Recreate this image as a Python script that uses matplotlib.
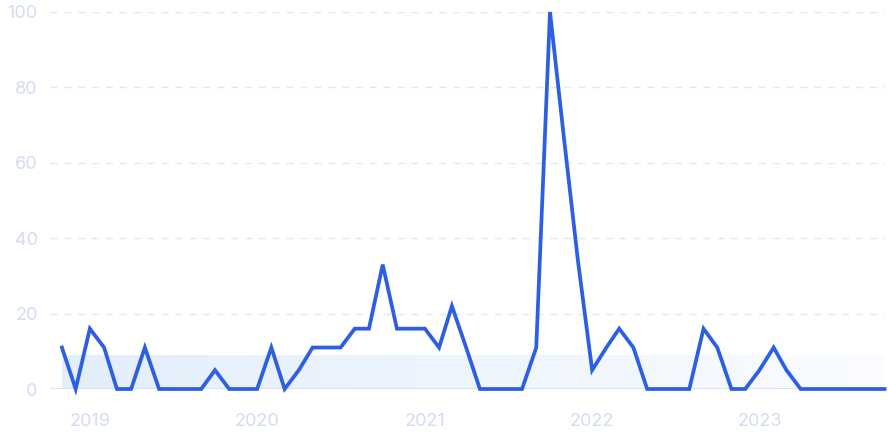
import matplotlib
matplotlib.use("Agg")
import matplotlib.pyplot as plt
import matplotlib.dates as mdates
from matplotlib.colors import LinearSegmentedColormap
import numpy as np
import pandas as pd

# Monthly values, Nov 2018 .. Oct 2023
months = pd.date_range("2018-11-01", periods=60, freq="MS")
values = [
    11, 0, 16, 11, 0, 0, 11, 0, 0, 0, 0, 5,
    0, 0, 0, 11, 0, 5, 11, 11, 11, 16, 16, 33,
    16, 16, 16, 11, 22, 11, 0, 0, 0, 0, 11, 100,
    66, 34, 5, 11, 16, 11, 0, 0, 0, 0, 16, 11,
    0, 0, 5, 11, 5, 0, 0, 0, 0, 0, 0, 0,
]
band_level = 8.8
y_ticks = [0, 20, 40, 60, 80, 100]
year_ticks = pd.to_datetime(["2019-01-01", "2020-01-01", "2021-01-01", "2022-01-01", "2023-01-01"])

LINE = "#2d5fe3"
TICK = "#d3dcf3"
GRID = "#dfe6f6"

plt.rcParams["font.family"] = ["Inter", "DejaVu Sans"]

fig = plt.figure(figsize=(8.88, 4.43), dpi=100)
W, H = 888, 443
ax = fig.add_axes([50 / W, (H - 389) / H, 835 / W, 377 / H])

x = mdates.date2num(months)
ax.set_xlim(x[0] - 26, x[-1] + 1)
ax.set_ylim(0, 100)

# shaded band under the line, fading to the right
grad = np.linspace(0, 1, 256).reshape(1, -1)
cmap = LinearSegmentedColormap.from_list("band", ["#e3eefb", "#fafcff"])
ax.imshow(grad, cmap=cmap, aspect="auto", extent=(x[0], x[-1], 0, band_level),
          zorder=1, interpolation="bilinear")

for yt in y_ticks[1:]:
    ax.axhline(yt, color=GRID, lw=1, ls=(0, (5, 5)), zorder=0)
ax.axhline(0, color="#d4e0f7", lw=1.2, zorder=2)

ax.plot(x, values, color=LINE, lw=2.7, zorder=3, clip_on=False,
        solid_joinstyle="miter")

ax.set_yticks(y_ticks)
ax.set_xticks(mdates.date2num(year_ticks))
ax.set_xticklabels([d.year for d in year_ticks])
ax.tick_params(axis="both", length=0, labelsize=13, colors=TICK)
ax.tick_params(axis="y", pad=9)
ax.tick_params(axis="x", pad=17)
for s in ax.spines.values():
    s.set_visible(False)

fig.savefig("out.png", dpi=100)
